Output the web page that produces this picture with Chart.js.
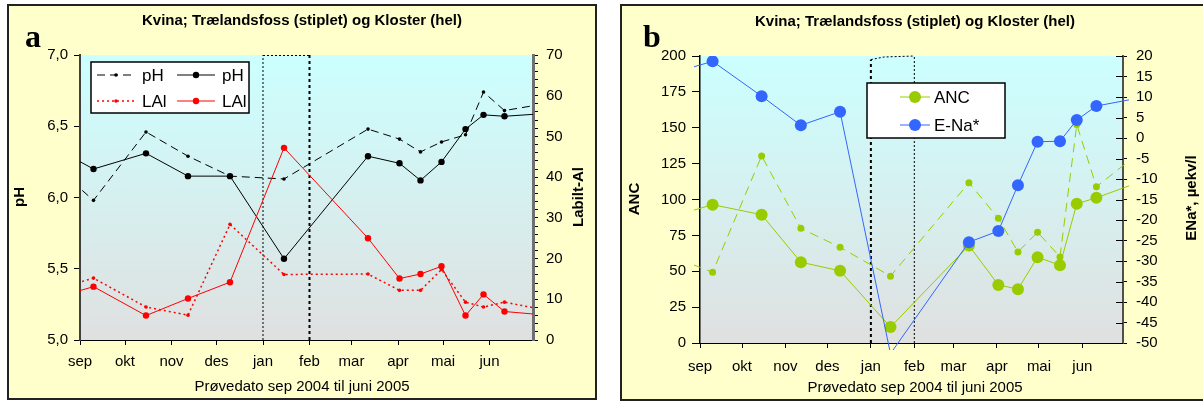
<!DOCTYPE html>
<html>
<head>
<meta charset="utf-8">
<script src="https://cdn.jsdelivr.net/npm/chart.js@4.4.1/dist/chart.umd.min.js"></script>
<style>
    html, body { margin: 0; padding: 0; background: #fff; overflow: hidden; }
    body { width: 1203px; height: 403px; position: relative; }
    .panel { position: absolute; top: 4px; width: 586px; border: 2px solid #222; background: #FFFFCC; }
    #panelA { left: 7px; height: 392px; }
    #panelB { left: 620px; height: 393px; }
    .panel canvas { display: block; }
</style>
</head>
<body>
<div class="panel" id="panelA"><canvas id="chartA" width="586" height="392"></canvas></div>
<div class="panel" id="panelB"><canvas id="chartB" width="586" height="393"></canvas></div>
<script>
// Axis and sampling dates (first and last samples lie just outside the shown period)
const chartTitle = 'Kvina; Trælandsfoss (stiplet) og Kloster (hel)';
const xTitle = 'Prøvedato sep 2004 til juni 2005';
const monthLabels = ['sep', 'okt', 'nov', 'des', 'jan', 'feb', 'mar', 'apr', 'mai', 'jun'];
const monthStarts = ['2004-09-01', '2004-10-01', '2004-11-01', '2004-12-01', '2005-01-01',
    '2005-02-01', '2005-03-01', '2005-04-01', '2005-05-01', '2005-06-01'];
const axisStart = '2004-09-01';
const axisEnd = '2005-06-30';
const iceStart = '2005-01-01';
const iceEnd = '2005-02-01';
const sampleDates = ['2004-08-27', '2004-09-10', '2004-10-15', '2004-11-12', '2004-12-10', '2005-01-15',
    '2005-03-12', '2005-04-02', '2005-04-16', '2005-04-30', '2005-05-16', '2005-05-28', '2005-06-11', '2005-07-09'];

// Panel a: pH and labile Al
const phTraelandsfoss = [6.11, 5.98, 6.46, 6.29, 6.15, 6.13, 6.48, 6.41, 6.32, 6.39, 6.44, 6.74, 6.61, 6.66];
const phKloster = [6.28, 6.20, 6.31, 6.15, 6.15, 5.57, 6.29, 6.24, 6.12, 6.25, 6.48, 6.58, 6.57, 6.59];
const lalTraelandsfoss = [13.7, 15.2, 8.1, 6.1, 28.4, 16.1, 16.2, 12.2, 12.2, 17.3, 9.3, 8.1, 9.3, 7.3];
const lalKloster = [11.6, 13.1, 6.0, 10.2, 14.2, 47.2, 25.0, 15.1, 16.2, 18.1, 6.0, 11.2, 7.0, 6.1];

// Panel b: ANC and E-Na*
const ancTraelandsfoss = [54.6, 49.3, 130.4, 79.9, 66.7, 46.6, 111.7, 86.9, 63.5, 77.2, 60.0, 152.2, 108.9, 130.5];
const ancKloster = [92.4, 96.4, 89.4, 56.3, 50.3, 11.1, 67.9, 40.5, 37.5, 59.8, 54.2, 97.0, 101.2, 111.2];
const enaKloster = [17.3, 18.7, 10.2, 3.1, 6.4, -52.6, -25.4, -22.7, -11.5, -0.9, -0.8, 4.4, 7.8, 9.6];

const FONT = 'Liberation Sans';
Chart.defaults.font.family = FONT;
Chart.defaults.color = '#000';

function dayOf(s) {
    return Math.round((Date.parse(s) - Date.parse(axisStart)) / 86400000);
}

function seriesPoints(values) {
    return sampleDates.map((d, i) => ({ x: dayOf(d), y: values[i] }));
}

// Hide markers that fall outside the plotted range
function pointSize(r) {
    return ctx => {
        const p = ctx.raw;
        const ys = ctx.chart.scales[ctx.dataset.yAxisID];
        if (!p || !ys) return r;
        if (p.x < dayOf(axisStart) || p.x > dayOf(axisEnd) || p.y < ys.min || p.y > ys.max) return 0;
        return r;
    };
}

function lineSet(label, values, axis, color, width, dash, radius, order) {
    return {
        label: label,
        data: seriesPoints(values),
        yAxisID: axis,
        borderColor: color,
        backgroundColor: color,
        borderWidth: width,
        borderDash: dash,
        pointRadius: pointSize(radius),
        pointHoverRadius: pointSize(radius),
        pointBorderWidth: 0,
        pointBackgroundColor: color,
        markerRadius: radius,
        tension: 0,
        order: order
    };
}

function monthAxis(height, padding) {
    const ticks = monthStarts.map(dayOf);
    return {
        type: 'linear',
        min: dayOf(axisStart),
        max: dayOf(axisEnd),
        afterBuildTicks: s => { s.ticks = ticks.map(v => ({ value: v })); },
        afterFit: s => { s.height = height; },
        ticks: {
            autoSkip: false, maxRotation: 0, padding: padding,
            font: { size: 15 },
            callback: v => monthLabels[ticks.indexOf(v)] ?? ''
        },
        grid: { drawOnChartArea: false, tickLength: 5, color: '#000', lineWidth: 1 },
        border: { color: '#000', width: 1 }
    };
}

function drawDotted(ctx, pts, width, dash) {
    ctx.save();
    ctx.strokeStyle = '#000';
    ctx.lineWidth = width;
    ctx.setLineDash(dash);
    ctx.beginPath();
    pts.forEach((p, i) => i ? ctx.lineTo(p[0], p[1]) : ctx.moveTo(p[0], p[1]));
    ctx.stroke();
    ctx.restore();
}

const panelDecor = {
    id: 'panelDecor',
    beforeDraw(chart) {
        const { ctx, chartArea: a } = chart;
        const g = ctx.createLinearGradient(0, a.top, 0, a.bottom);
        g.addColorStop(0, '#CCFFFF');
        g.addColorStop(1, '#E0E0E0');
        ctx.save();
        ctx.fillStyle = g;
        ctx.fillRect(a.left, a.top, a.width, a.height);
        ctx.restore();
    },
    beforeDatasetsDraw(chart, args, opts) {
        const { ctx, chartArea: a, scales } = chart;
        const ice = opts.ice;
        const x0 = scales.x.getPixelForValue(dayOf(iceStart));
        const x1 = scales.x.getPixelForValue(dayOf(iceEnd));
        const yL = scales.y.getPixelForValue(ice.top[0]);
        const yR = scales.y.getPixelForValue(ice.top[1]);
        drawDotted(ctx, [[x0, a.bottom], [x0, yL]], ice.widths[0], ice.widths[0] > 1 ? [3, 3] : [2, 2]);
        drawDotted(ctx, [[x1, a.bottom], [x1, yR]], ice.widths[1], ice.widths[1] > 1 ? [3, 3] : [2, 2]);
        const top = ice.kink ? [[x0, yL], [x0 + (x1 - x0) * 0.3, yR + 1], [x1, yR]] : [[x0, yL + 0.5], [x1, yR + 0.5]];
        drawDotted(ctx, top, 1, [2, 2]);
    },
    afterDatasetsDraw(chart, args, opts) {
        const { ctx, chartArea: a } = chart;
        // inner tick marks on the right axis where wanted
        if (opts.innerTicks) {
            const s = chart.scales.y2;
            ctx.save();
            ctx.strokeStyle = '#000';
            ctx.lineWidth = 1;
            s.ticks.forEach(t => {
                const y = Math.round(s.getPixelForValue(t.value)) + 0.5;
                ctx.beginPath();
                ctx.moveTo(a.right - opts.innerTicks, y);
                ctx.lineTo(a.right, y);
                ctx.stroke();
            });
            ctx.restore();
        }
        // legend box
        const lg = opts.legend;
        ctx.save();
        ctx.fillStyle = '#fff';
        ctx.fillRect(lg.box[0], lg.box[1], lg.box[2] - lg.box[0], lg.box[3] - lg.box[1]);
        ctx.strokeStyle = '#000';
        ctx.lineWidth = 1.5;
        ctx.strokeRect(lg.box[0], lg.box[1], lg.box[2] - lg.box[0], lg.box[3] - lg.box[1]);
        lg.items.forEach(it => {
            const ds = chart.data.datasets[it.ds];
            ctx.strokeStyle = ds.borderColor;
            ctx.lineWidth = ds.borderWidth;
            ctx.setLineDash(ds.borderDash || []);
            ctx.beginPath();
            ctx.moveTo(it.x, it.y);
            ctx.lineTo(it.x + lg.lineLen, it.y);
            ctx.stroke();
            ctx.setLineDash([]);
            ctx.fillStyle = ds.borderColor;
            ctx.beginPath();
            ctx.arc(it.x + lg.lineLen / 2, it.y, ds.markerRadius, 0, Math.PI * 2);
            ctx.fill();
            ctx.fillStyle = '#000';
            ctx.font = '17px ' + FONT;
            ctx.textAlign = 'left';
            ctx.textBaseline = 'middle';
            ctx.fillText(ds.label, it.x + lg.lineLen + lg.gap, it.y + 1);
        });
        ctx.restore();
    },
    afterDraw(chart, args, opts) {
        const ctx = chart.ctx;
        const w = chart.width;
        ctx.save();
        ctx.fillStyle = '#000';
        ctx.textAlign = 'center';
        ctx.textBaseline = 'middle';
        ctx.font = 'bold 15px ' + FONT;
        ctx.fillText(chartTitle, w / 2, opts.titleY);
        ctx.font = '15px ' + FONT;
        ctx.fillText(xTitle, w / 2, opts.xTitleY);
        ctx.font = 'bold 15px ' + FONT;
        [[opts.leftTitle, opts.leftTitlePos], [opts.rightTitle, opts.rightTitlePos]].forEach(([t, p]) => {
            ctx.save();
            ctx.translate(p[0], p[1]);
            ctx.rotate(-Math.PI / 2);
            ctx.fillText(t, 0, 0);
            ctx.restore();
        });
        ctx.textAlign = 'left';
        ctx.textBaseline = 'alphabetic';
        ctx.font = 'bold 32px "Liberation Serif"';
        ctx.fillText(opts.letter, opts.letterPos[0], opts.letterPos[1]);
        ctx.restore();
    }
};

// Panel a
new Chart(document.getElementById('chartA'), {
    type: 'line',
    data: {
        datasets: [
            lineSet('pH', phTraelandsfoss, 'y', '#000000', 1, [8, 5], 1.8, 2),
            lineSet('pH', phKloster, 'y', '#000000', 1, [], 3.2, 3),
            lineSet('LAl', lalTraelandsfoss, 'y2', '#FF0000', 1.5, [2, 3], 1.8, 1),
            lineSet('LAl', lalKloster, 'y2', '#FF0000', 1, [], 3.2, 0)
        ]
    },
    options: {
        responsive: false,
        animation: false,
        events: [],
        layout: { padding: { top: 49, left: 0, right: 0, bottom: 0 } },
        plugins: {
            legend: { display: false },
            tooltip: { enabled: false },
            panelDecor: {
                titleY: 15, xTitleY: 381,
                letter: 'a', letterPos: [16, 41],
                leftTitle: 'pH', leftTitlePos: [11, 191],
                rightTitle: 'Labilt-Al', rightTitlePos: [570, 191],
                ice: { top: [7, 7], widths: [1, 2], kink: false },
                legend: {
                    box: [82, 56, 240, 107], lineLen: 38, gap: 7,
                    items: [
                        { ds: 0, x: 88, y: 69 }, { ds: 1, x: 168, y: 69 },
                        { ds: 2, x: 88, y: 95 }, { ds: 3, x: 168, y: 95 }
                    ]
                }
            }
        },
        scales: {
            x: monthAxis(58, 8),
            y: {
                position: 'left', min: 5, max: 7,
                afterFit: s => { s.width = 71; },
                ticks: { stepSize: 0.5, padding: 6, font: { size: 15 },
                    callback: v => v.toFixed(1).replace('.', ',') },
                grid: { drawOnChartArea: false, tickLength: 6, color: '#000' },
                border: { color: '#404040', width: 2 }
            },
            y2: {
                position: 'right', min: 0, max: 70,
                afterFit: s => { s.width = 62; },
                ticks: { stepSize: 2, autoSkip: false, padding: 8, font: { size: 15 },
                    callback: v => (v % 10 === 0 ? String(v) : '') },
                grid: { drawOnChartArea: false, tickLength: 5, color: '#000' },
                border: { color: '#707070', width: 3 }
            }
        }
    },
    plugins: [panelDecor]
});

// Panel b
const clipB = { left: 6, top: 0, right: 6, bottom: 7 };
const setsB = [
    lineSet('ANC', ancKloster, 'y', '#99CC00', 1, [], 6, 1),
    lineSet('E-Na*', enaKloster, 'y2', '#3366FF', 1, [], 6, 0),
    lineSet('ANC', ancTraelandsfoss, 'y', '#99CC00', 1, [9, 6], 3.5, 2)
];
setsB.forEach(ds => { ds.clip = clipB; });

new Chart(document.getElementById('chartB'), {
    type: 'line',
    data: { datasets: setsB },
    options: {
        responsive: false,
        animation: false,
        events: [],
        layout: { padding: { top: 50, left: 0, right: 0, bottom: 0 } },
        plugins: {
            legend: { display: false },
            tooltip: { enabled: false },
            panelDecor: {
                titleY: 16, xTitleY: 382,
                letter: 'b', letterPos: [21, 41],
                leftTitle: 'ANC', leftTitlePos: [13, 193],
                rightTitle: 'ENa*, µekv/l', rightTitlePos: [570, 192],
                ice: { top: [197.5, 200], widths: [2, 1], kink: true },
                innerTicks: 7,
                legend: {
                    box: [245, 77, 383, 132], lineLen: 30, gap: 4,
                    items: [{ ds: 0, x: 278, y: 91 }, { ds: 1, x: 278, y: 119 }]
                }
            }
        },
        scales: {
            x: monthAxis(56, 10),
            y: {
                position: 'left', min: 0, max: 200,
                afterFit: s => { s.width = 78; },
                ticks: { stepSize: 25, padding: 6, font: { size: 15 } },
                grid: { drawOnChartArea: false, tickLength: 8, color: '#000' },
                border: { color: '#000', width: 1.5 }
            },
            y2: {
                position: 'right', min: -50, max: 20,
                afterFit: s => { s.width = 85; },
                ticks: { stepSize: 5, autoSkip: false, padding: 9, font: { size: 15 } },
                grid: { drawOnChartArea: false, tickLength: 4, color: '#000' },
                border: { color: '#505050', width: 2 }
            }
        }
    },
    plugins: [panelDecor]
});
</script>
</body>
</html>
